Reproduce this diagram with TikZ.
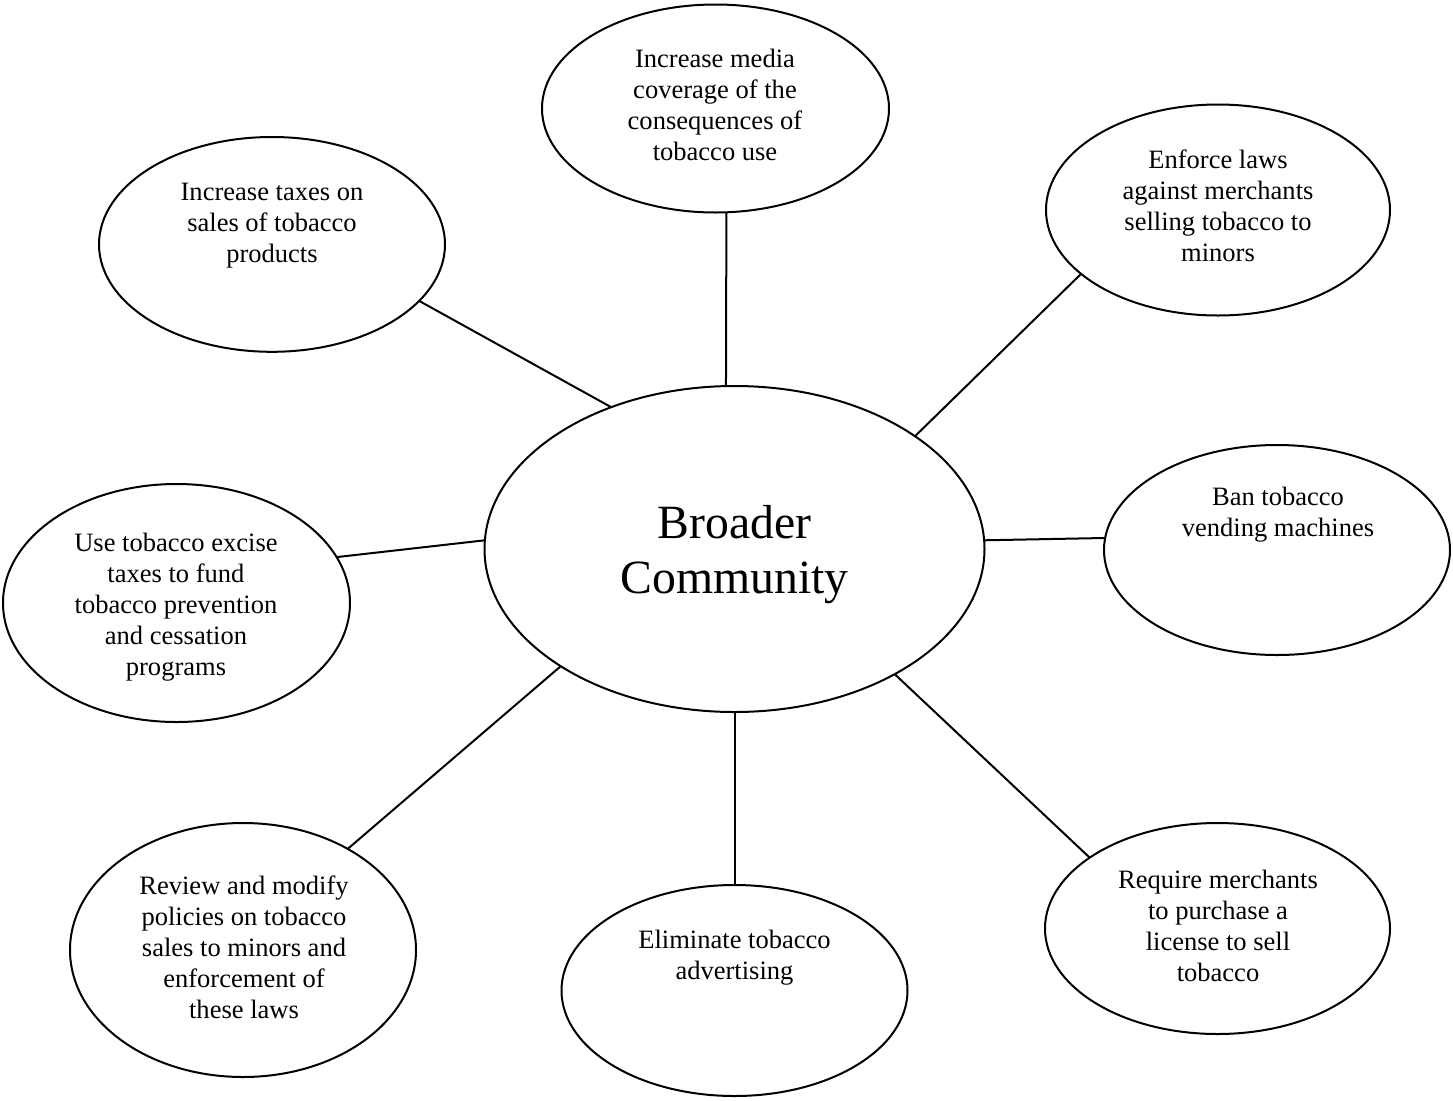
\documentclass[tikz,border=0pt]{standalone}
\usepackage{fontspec}
\setmainfont{Liberation Serif}
\usetikzlibrary{shapes.geometric}
\begin{document}
\begin{tikzpicture}[x=0.75pt,y=-0.75pt,
  bubble/.style 2 args={ellipse, draw=black, line width=1.5pt, fill=white,
    inner sep=0pt, outer sep=0pt,
    minimum width=#1*1.5pt, minimum height=#2*1.5pt},
  words/.style={align=center, inner sep=0pt,
    font=\fontsize{19.9}{23.25}\selectfont},
  hubwords/.style={align=center, inner sep=0pt,
    font=\fontsize{35.8}{41.25}\selectfont},
  link/.style={draw=black, line width=1.5pt}]
\useasboundingbox (0,0) rectangle (1453,1100);

% outlines of the bubbles (half axes given in px)
\node[bubble={173.5}{104}]   (media)     at (715.5,108.5) {};
\node[bubble={173}{107.4}]   (taxes)     at (272,244.4)   {};
\node[bubble={172}{105.5}]   (enforce)   at (1218,210)    {};
\node[bubble={250}{163}]     (hub)       at (734.5,549)   {};
\node[bubble={173}{105}]     (ban)       at (1277,550)    {};
\node[bubble={173.5}{119}]   (excise)    at (176.5,603)   {};
\node[bubble={173}{127}]     (review)    at (243,950)     {};
\node[bubble={173}{105.5}]   (eliminate) at (734.5,990.5) {};
\node[bubble={172.5}{105.5}] (license)   at (1217.5,928.5){};

% texts inside the bubbles
\node[words] (mediaT) at (715,105)
  {Increase media\\coverage of the\\consequences of\\tobacco use};
\node[words] (taxesT) at (272,226)
  {Increase taxes on\\sales of tobacco\\products};
\node[words] (enforceT) at (1218,206)
  {Enforce laws\\against merchants\\selling tobacco to\\minors};
\node[hubwords] (hubT) at (734.5,555) {Broader\\Community};
\node[words] (banT) at (1278,515)
  {Ban tobacco\\vending machines};
\node[words] (exciseT) at (176,607)
  {Use tobacco excise\\taxes to fund\\tobacco prevention\\and cessation\\programs};
\node[words] (reviewT) at (244,947)
  {Review and modify\\policies on tobacco\\sales to minors and\\enforcement of\\these laws};
\node[words] (eliminateT) at (734.5,958)
  {Eliminate tobacco\\advertising};
\node[words] (licenseT) at (1218,926)
  {Require merchants\\to purchase a\\license to sell\\tobacco};

% spokes from the hub to each bubble
\draw[link] (media.-84.8)    -- (hub.93.3);
\draw[link] (taxes.-21.1)    -- (hub.131);
\draw[link] (enforce.-155)   -- (hub.32);
\draw[link] (excise.16.4)    -- (hub.178.9);
\draw[link] (hub.2.1)        -- (ban.176.7);
\draw[link] (hub.214.6)      -- (review.44.2);
\draw[link] (hub.south)      -- (eliminate.north);
\draw[link] (hub.-38.7)      -- (license.151.6);
\end{tikzpicture}
\end{document}
